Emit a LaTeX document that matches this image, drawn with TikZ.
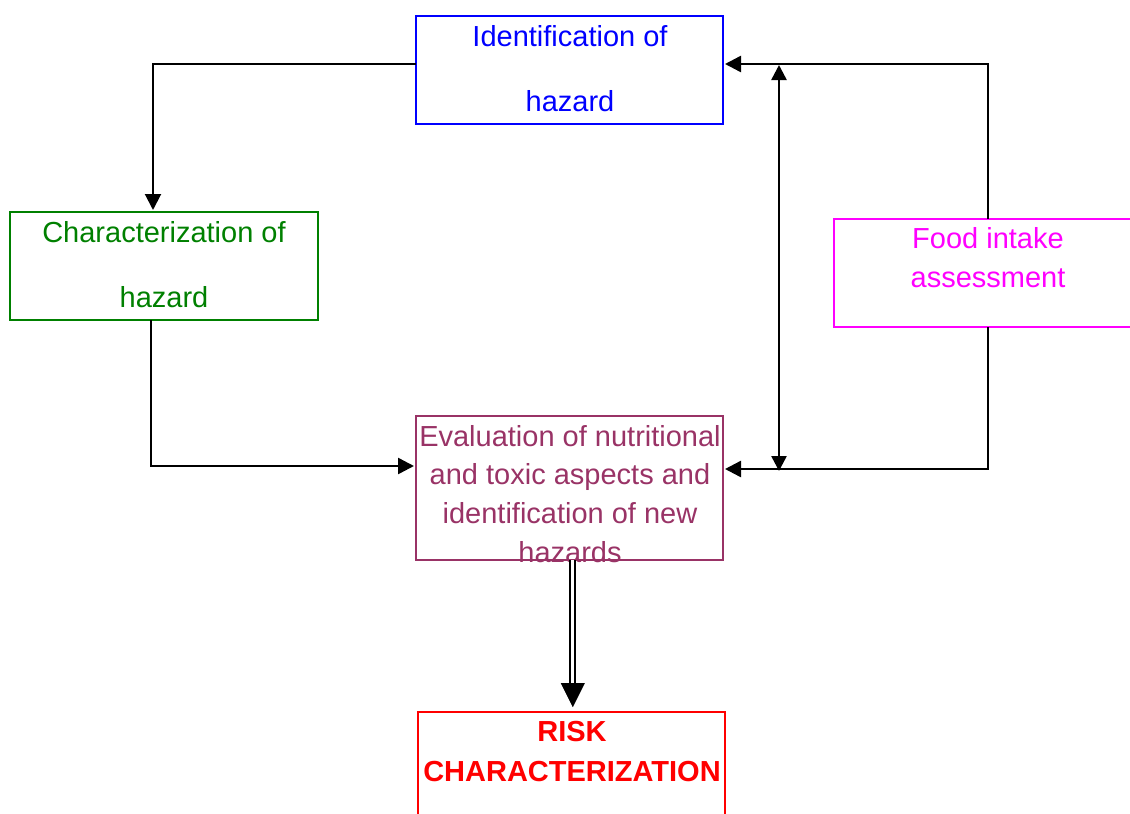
\documentclass[tikz,border=0pt]{standalone}
\usepackage{fontspec}
\setmainfont{Liberation Sans}
\usetikzlibrary{arrows.meta}
\definecolor{evalc}{HTML}{993366}
\definecolor{greenc}{HTML}{008000}
\definecolor{bluec}{HTML}{0000FF}
\definecolor{magc}{HTML}{FF00FF}
\definecolor{redc}{HTML}{FF0000}
\tikzset{
  box/.style={draw, rectangle, inner sep=0pt, outer sep=0pt, line width=1.8pt, minimum height=108pt},
  txt/.style={anchor=base, inner sep=0pt, font=\fontsize{29}{35}\selectfont},
  conn/.style={line width=2.5pt, -{Triangle[length=16pt,width=16pt]}},
  conn2/.style={line width=2.5pt, {Triangle[length=15pt,width=15pt]}-{Triangle[length=15pt,width=15pt]}},
  dbl/.style={double, double distance=3pt, line width=2pt},
  bighead/.style={line width=0.1pt, -{Triangle[length=24pt,width=24pt]}}
}
\begin{document}
\begin{tikzpicture}[x=1pt,y=-1pt]
\useasboundingbox (0,0) rectangle (1130,814);
% boxes
\node[box, draw=bluec, minimum width=307pt] (ident) at (569.5,70) {};
\node[box, draw=greenc, minimum width=308pt] (chara) at (164,266) {};
\node[box, draw=magc, minimum width=302pt] (food) at (985,273) {};
\node[box, draw=evalc, minimum width=307pt, minimum height=144pt] (eval) at (569.5,488) {};
\node[box, draw=redc, minimum width=307pt] (risk) at (571.5,766) {};
% texts
\node[txt, text=bluec] (it1) at (570,46) {Identification of};
\node[txt, text=bluec] (it2) at (570,111) {hazard};
\node[txt, text=greenc] (ct1) at (164,242) {Characterization of};
\node[txt, text=greenc] (ct2) at (164,307) {hazard};
\node[txt, text=magc] (ft1) at (988,248) {Food intake};
\node[txt, text=magc] (ft2) at (988,287) {assessment};
\node[txt, text=evalc] (et1) at (570,446) {Evaluation of nutritional};
\node[txt, text=evalc] (et2) at (570,484.5) {and toxic aspects and};
\node[txt, text=evalc] (et3) at (570,523) {identification of new};
\node[txt, text=evalc] (et4) at (570,562) {hazards};
\node[txt, text=redc, font=\fontsize{29}{35}\selectfont\bfseries] (rt1) at (572,741) {RISK};
\node[txt, text=redc, font=\fontsize{29}{35}\selectfont\bfseries] (rt2) at (572,781) {CHARACTERIZATION};
% connectors
\draw[conn, line width=2pt] ([yshift=6pt]ident.west) -| ([xshift=-11pt,yshift=2pt]chara.north);
\draw[conn] ([xshift=-13pt]chara.south) |- ([xshift=-2pt,yshift=22pt]eval.west);
\draw[conn] ([xshift=3pt]food.north) |- ([xshift=2pt,yshift=6pt]ident.east);
\draw[conn] ([xshift=3pt]food.south) |- ([xshift=2pt,yshift=19pt]eval.east);
\coordinate (vtop) at (779,65);
\coordinate (vbot) at (779,471);
\draw[conn2] (vtop) -- (vbot);
\coordinate (ahb) at (572.8,684);
\draw[dbl] ([xshift=3.3pt]eval.south) -- (ahb);
\draw[bighead] (ahb) -- ([xshift=1.3pt,yshift=5pt]risk.north);
\end{tikzpicture}
\end{document}
